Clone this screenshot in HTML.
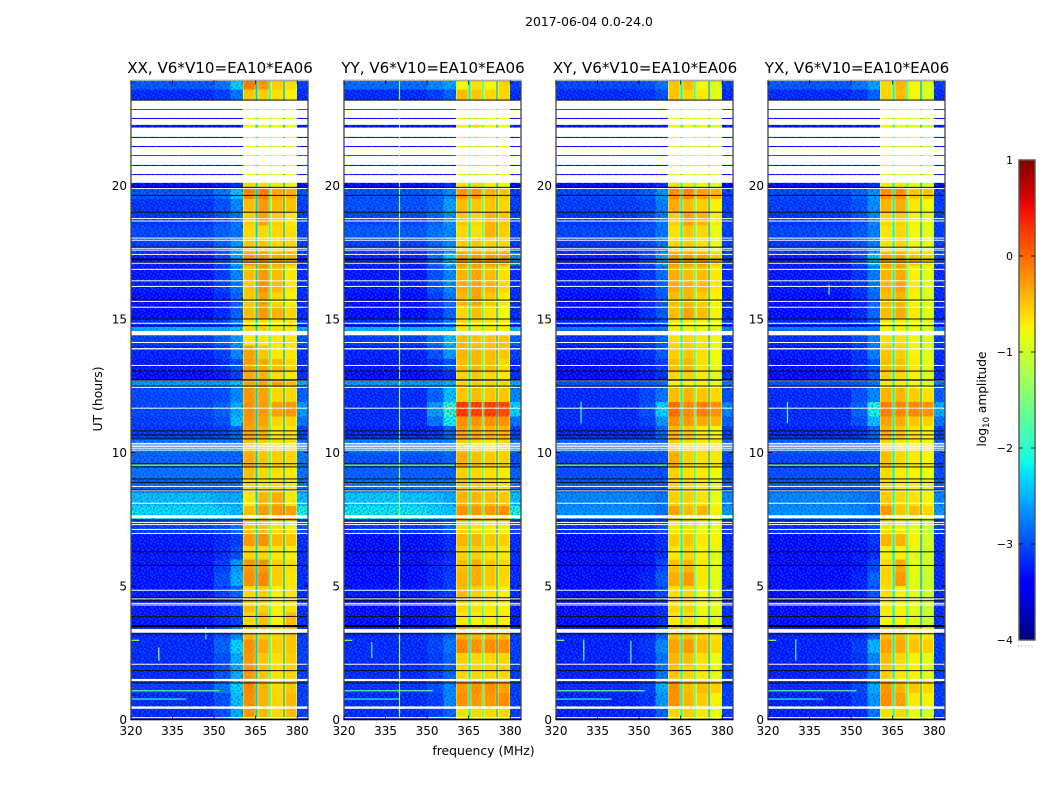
<!DOCTYPE html>
<html>
<head>
<meta charset="utf-8">
<title>Spectrogram 2017-06-04</title>
<style>
html,body{margin:0;padding:0;background:#fff;}
svg{display:block;}
text{font-family:"DejaVu Sans","Liberation Sans",sans-serif;fill:#000;}
</style>
</head>
<body>
<svg id="chart" xmlns="http://www.w3.org/2000/svg" width="1050" height="800" viewBox="0 0 1050 800">
<defs>
<linearGradient id="jetGradient" x1="0" y1="1" x2="0" y2="0"></linearGradient>
</defs>
<text x="589" y="26" font-size="12.4" text-anchor="middle">2017-06-04 0.0-24.0</text>
<text x="483.5" y="755" font-size="12.4" text-anchor="middle">frequency (MHz)</text>
<text x="0" y="0" font-size="12.4" text-anchor="middle" transform="translate(102,399) rotate(-90)">UT (hours)</text>
<text x="0" y="0" font-size="12.2" text-anchor="middle" transform="translate(986,399) rotate(-90)">log<tspan font-size="8.5" dy="3">10</tspan><tspan dy="-3"> amplitude</tspan></text>
</svg>
<script>
const panelTitles = ["XX, V6*V10=EA10*EA06", "YY, V6*V10=EA10*EA06", "XY, V6*V10=EA10*EA06", "YX, V6*V10=EA10*EA06"];
const freqTicks = [320, 335, 350, 365, 380];
const hourTicks = [0, 5, 10, 15, 20];
const colorTicks = [1, 0, -1, -2, -3, -4];
const timeEdges = [0,.5,1,1.5,2,2.5,3,3.5,4,4.5,5,5.5,6,6.5,7,7.5,8,8.5,9,9.5,10,10.5,11,11.35,11.9,12.45,12.65,13,13.5,14,14.5,14.7,15,15.5,16,16.5,17,17.5,18,18.5,19,19.5,19.9,20.1,23.2,23.6,23.95];
const offBandEdges = [320, 350, 356, 360.4];
const bandEdges = [[360.4,365],[365.6,369.9],[370.4,375],[375.5,380]];
const edgeBand = [380, 384];
const gapEdges = [[365,365.6],[369.9,370.4],[375,375.5]];
// log10 amplitude per time row: bg, 350-356, 356-360, band1..band4, 380-384
const amplitudeXX = [
[-3,-2.8,-2.3,-.35,-.55,-.7,-.55,-2.9],[-3,-2.8,-2.2,-.3,-.5,-.7,-.55,-2.9],[-2.9,-2.6,-2.1,-.25,-.5,-.7,-.6,-2.9],[-3,-2.8,-2.3,-.35,-.6,-.75,-.7,-2.9],[-3,-2.8,-2.3,-.35,-.6,-.75,-.65,-2.9],[-3,-2.7,-2.1,-.3,-.45,-.65,-.6,-2.9],[-3,-2.8,-2.5,-.5,-.6,-.7,-.6,-2.9],[-3.1,-3,-2.9,-.7,-.55,-.85,-.55,-3],[-3.1,-3,-2.9,-.55,-.65,-.85,-.75,-3],[-3.1,-2.9,-2.7,-.7,-.65,-.85,-.8,-3],[-3.1,-2.8,-2.3,-.3,-.25,-.65,-.8,-3],[-3.1,-2.9,-2.4,-.35,-.35,-.65,-.75,-3],[-3.1,-3,-2.8,-.7,-.7,-.8,-.85,-3],[-3.1,-3,-2.9,-.35,-.3,-.55,-.6,-3],[-2.9,-2.8,-2.6,-.6,-.6,-.75,-.85,-2.8],[-2.05,-2.1,-2.2,-.55,-.35,-.35,-.4,-1.9],[-2.2,-2.3,-2.3,-.8,-.5,-.45,-.8,-2.2],[-2.7,-2.7,-2.7,-.7,-.75,-.75,-.8,-2.6],[-2.6,-2.6,-2.6,-.55,-.7,-.75,-.8,-2.6],[-2.7,-2.7,-2.7,-.45,-.6,-.65,-.7,-2.6],[-2.6,-2.6,-2.6,-.55,-.65,-.7,-.75,-2.6],[-2.95,-2.9,-2.7,-.4,-.5,-.8,-.8,-2.9],[-2.9,-2.8,-2.2,-.35,-.4,-.7,-.7,-2.6],[-2.85,-2.7,-2.3,-.3,-.35,-.4,-.35,-2.4],[-2.85,-2.8,-2.5,-.35,-.4,-.7,-.7,-2.7],[-2.4,-2.4,-2.2,-.4,-.4,-.4,-.55,-2.3],[-3.2,-3.1,-2.9,-.45,-.5,-.75,-.8,-3],[-3.1,-3,-2.8,-.35,-.45,-.55,-.7,-3],[-3.05,-2.9,-2.5,-.4,-.6,-.8,-.8,-3],[-2.9,-2.7,-2.4,-.8,-.8,-.8,-.8,-2.8],[-2.3,-2.3,-2.2,-.7,-.7,-.75,-.8,-2.3],[-3,-2.9,-2.6,-.75,-.75,-.8,-.8,-2.9],[-3.15,-3,-2.7,-.55,-.35,-.5,-.7,-3],[-3.15,-3,-2.7,-.6,-.4,-.7,-.85,-3],[-3.1,-2.9,-2.6,-.6,-.3,-.55,-.8,-3],[-3.1,-2.9,-2.5,-.55,-.35,-.55,-.8,-3],[-3.05,-2.8,-2.3,-.35,-.35,-.45,-.5,-3],[-2.9,-2.7,-2.4,-.6,-.6,-.7,-.7,-2.9],[-2.85,-2.7,-2.6,-.7,-.7,-.7,-.75,-2.9],[-2.95,-2.8,-2.6,-.65,-.4,-.65,-.8,-2.9],[-2.95,-2.8,-2.5,-.55,-.35,-.55,-.6,-2.9],[-2.8,-2.6,-2.2,-.25,-.2,-.45,-.5,-2.8],[-3.2,-3.1,-3,-.7,-.75,-.8,-.85,-3.2],[-3.1,-3.1,-3.1,-.9,-.9,-.95,-.95,-3.1],[-3,-2.9,-2.6,-.6,-.65,-.75,-.85,-3],[-2.75,-2.6,-2.1,-.2,-.35,-.65,-.75,-2.9]
];
const amplitudeYY = [
[-3,-2.9,-2.7,-.75,-.7,-.7,-.7,-2.9],[-3,-2.9,-2.5,-.3,-.35,-.35,-.3,-2.9],[-2.95,-2.8,-2.5,-.35,-.3,-.3,-.4,-2.9],[-3,-2.9,-2.7,-.7,-.7,-.7,-.7,-2.9],[-3,-2.9,-2.7,-.65,-.7,-.7,-.7,-2.9],[-3,-2.85,-2.6,-.25,-.3,-.3,-.3,-2.9],[-3,-2.9,-2.7,-.45,-.5,-.5,-.55,-2.9],[-3.15,-3.1,-3,-.8,-.85,-.85,-.85,-3.1],[-3.15,-3.1,-3,-.7,-.75,-.8,-.85,-3.1],[-3.1,-3,-2.9,-.55,-.65,-.75,-.85,-3],[-3.15,-3.05,-2.9,-.5,-.45,-.6,-.7,-3],[-3.15,-3.05,-2.95,-.55,-.45,-.6,-.7,-3],[-3.15,-3.1,-3,-.65,-.65,-.75,-.8,-3],[-3.15,-3.1,-3,-.5,-.5,-.6,-.65,-3],[-2.95,-2.9,-2.7,-.7,-.75,-.8,-.85,-2.8],[-2,-2.1,-2.15,-.3,-.35,-.35,-.3,-1.9],[-2.15,-2.2,-2.3,-.5,-.5,-.55,-.6,-2.2],[-2.6,-2.6,-2.6,-.6,-.65,-.7,-.75,-2.6],[-2.7,-2.7,-2.7,-.65,-.7,-.75,-.8,-2.7],[-2.8,-2.8,-2.7,-.45,-.55,-.6,-.65,-2.8],[-2.55,-2.55,-2.5,-.6,-.7,-.75,-.7,-2.6],[-3.05,-3,-2.7,-.4,-.45,-.5,-.5,-2.9],[-3,-2.6,-1.95,-.3,-.3,-.3,-.3,-2.6],[-3,-2.4,-1.7,.2,.15,.15,.1,-2.1],[-3,-2.7,-2.2,-.6,-.55,-.6,-.6,-2.5],[-2.4,-2.4,-2.3,-.7,-.65,-.65,-.7,-2.3],[-3.2,-3.1,-3,-.7,-.6,-.7,-.8,-3],[-3.1,-3,-2.8,-.55,-.5,-.55,-.7,-3],[-3.05,-2.8,-2.4,-.5,-.5,-.55,-.6,-2.9],[-2.9,-2.6,-2.2,-.55,-.6,-.6,-.6,-2.7],[-2.25,-2.25,-2.2,-.8,-.8,-.8,-.85,-2.2],[-3,-2.9,-2.6,-.7,-.7,-.75,-.8,-2.9],[-3.15,-3,-2.7,-.7,-.55,-.75,-.9,-3],[-3.15,-2.9,-2.6,-.5,-.4,-.6,-.8,-3],[-3.1,-2.8,-2.5,-.45,-.4,-.5,-.7,-3],[-3.1,-2.8,-2.5,-.5,-.4,-.55,-.75,-3],[-3,-2.6,-2.1,-.35,-.35,-.35,-.4,-2.4],[-2.9,-2.7,-2.5,-.65,-.6,-.65,-.7,-2.9],[-2.75,-2.6,-2.5,-.7,-.75,-.5,-.65,-2.9],[-2.85,-2.7,-2.45,-.6,-.7,-.5,-.6,-2.9],[-2.8,-2.7,-2.35,-.55,-.6,-.6,-.7,-2.9],[-2.8,-2.7,-2.5,-.35,-.35,-.5,-.6,-2.9],[-3.2,-3.1,-3,-.75,-.7,-.85,-.95,-3.2],[-3.1,-3.1,-3.1,-.8,-.7,-.9,-.95,-3.1],[-3,-2.9,-2.7,-.55,-.6,-.7,-.7,-3],[-2.65,-2.5,-2.35,-.9,-.75,-.9,-.7,-2.9]
];
const amplitudeXY = [
[-3.05,-3,-2.7,-.7,-.65,-.8,-.95,-2.9],[-3.05,-2.95,-2.4,-.3,-.5,-.65,-.85,-2.9],[-3,-2.9,-2.3,-.3,-.55,-.55,-.65,-2.9],[-3.05,-3,-2.6,-.6,-.7,-.8,-.95,-2.9],[-3.05,-3,-2.6,-.5,-.55,-.75,-.95,-2.9],[-3.05,-2.95,-2.5,-.4,-.35,-.55,-.7,-2.9],[-3.05,-3,-2.7,-.55,-.55,-.65,-.75,-2.9],[-3.15,-3.1,-3,-.8,-.75,-.9,-1,-3],[-3.15,-3.1,-3,-.7,-.65,-.9,-1,-3],[-3.15,-3.05,-2.85,-.75,-.7,-.9,-1,-3],[-3.15,-3.05,-2.75,-.45,-.35,-.8,-1,-3],[-3.15,-3.1,-2.85,-.55,-.5,-.8,-1,-3],[-3.15,-3.1,-3,-.8,-.7,-.85,-1,-3],[-3.15,-3.1,-3,-.65,-.6,-.8,-.85,-3],[-3,-2.95,-2.8,-.8,-.75,-.9,-1,-2.9],[-2.45,-2.5,-2.6,-.4,-.55,-.5,-.85,-2.4],[-2.5,-2.55,-2.6,-.65,-.65,-.75,-.95,-2.5],[-2.75,-2.75,-2.75,-.7,-.75,-.8,-1,-2.75],[-2.8,-2.8,-2.8,-.65,-.75,-.8,-.9,-2.8],[-2.85,-2.85,-2.8,-.45,-.65,-.75,-.8,-2.85],[-2.7,-2.7,-2.7,-.6,-.7,-.75,-.75,-2.7],[-3.05,-3,-2.7,-.5,-.6,-.8,-.9,-2.9],[-3,-2.9,-2.4,-.3,-.35,-.45,-.5,-2.7],[-3,-2.8,-2.1,-.1,-.25,-.2,-.3,-2.5],[-3,-2.85,-2.6,-.55,-.5,-.6,-.7,-2.8],[-2.8,-2.75,-2.65,-.85,-.85,-.85,-.95,-2.6],[-3.2,-3.1,-3,-.7,-.65,-.8,-1,-3],[-3.15,-3.05,-2.9,-.55,-.5,-.75,-.95,-3],[-3.1,-3,-2.75,-.65,-.6,-.75,-.9,-3],[-3,-2.9,-2.7,-.75,-.7,-.8,-.9,-2.9],[-2.6,-2.6,-2.6,-.85,-.85,-.9,-1,-2.5],[-3.05,-3,-2.8,-.8,-.8,-.85,-.95,-2.9],[-3.15,-3,-2.75,-.55,-.4,-.55,-.85,-3],[-3.15,-3,-2.75,-.55,-.5,-.65,-.85,-3],[-3.1,-2.95,-2.7,-.45,-.5,-.55,-.8,-3],[-3.1,-2.95,-2.65,-.45,-.55,-.55,-.8,-3],[-3.05,-2.8,-2.35,-.35,-.35,-.4,-.6,-2.9],[-2.95,-2.85,-2.6,-.7,-.65,-.75,-.95,-2.9],[-2.85,-2.8,-2.6,-.75,-.6,-.7,-.95,-2.9],[-2.95,-2.85,-2.6,-.65,-.4,-.5,-.85,-2.9],[-2.9,-2.85,-2.55,-.45,-.55,-.65,-.85,-2.9],[-2.85,-2.75,-2.45,-.3,-.25,-.4,-.5,-2.9],[-3.2,-3.1,-3,-.75,-.8,-.9,-1.05,-3.2],[-3.1,-3.1,-3.1,-.85,-.9,-.95,-1.05,-3.1],[-3,-2.95,-2.8,-.6,-.7,-.8,-1,-3],[-2.85,-2.8,-2.6,-.6,-.55,-.9,-1,-2.9]
];
const amplitudeYX = [
[-3.05,-3,-2.6,-.75,-.7,-.95,-1.1,-2.9],[-3.05,-2.9,-2.4,-.3,-.4,-.8,-.85,-2.9],[-3,-2.85,-2.3,-.35,-.5,-.6,-.7,-2.9],[-3.05,-2.95,-2.6,-.65,-.8,-.85,-1,-2.9],[-3.05,-2.95,-2.5,-.55,-.7,-.85,-1,-2.9],[-3.05,-2.9,-2.25,-.4,-.45,-.6,-.65,-2.9],[-3.05,-3,-2.7,-.55,-.55,-.7,-.8,-2.9],[-3.15,-3.1,-2.95,-.85,-.85,-1,-1.15,-3],[-3.15,-3.1,-2.95,-.8,-.85,-1,-1.15,-3],[-3.15,-3.05,-2.8,-.75,-.85,-1,-1.15,-3],[-3.15,-3.05,-2.7,-.7,-.35,-1,-1.15,-3],[-3.15,-3.1,-2.85,-.7,-.45,-1,-1.1,-3],[-3.15,-3.1,-3,-.85,-.85,-1,-1.1,-3],[-3.15,-3.1,-2.95,-.5,-.5,-.85,-1.1,-3],[-3,-2.95,-2.8,-.75,-.8,-1,-1.15,-2.9],[-2.45,-2.5,-2.6,-.35,-.6,-.55,-.7,-2.4],[-2.5,-2.55,-2.6,-.6,-.7,-.75,-.85,-2.5],[-2.75,-2.75,-2.75,-.75,-.8,-.85,-1,-2.75],[-2.8,-2.8,-2.8,-.7,-.8,-.85,-.95,-2.8],[-2.85,-2.85,-2.8,-.55,-.7,-.8,-.85,-2.85],[-2.7,-2.7,-2.7,-.65,-.75,-.8,-.85,-2.7],[-3.05,-3,-2.7,-.5,-.6,-.75,-.85,-2.9],[-3,-2.8,-2.2,-.4,-.45,-.6,-.65,-2.6],[-3,-2.7,-1.9,-.2,-.25,-.25,-.3,-2.3],[-3,-2.8,-2.5,-.5,-.5,-.65,-.75,-2.7],[-2.8,-2.75,-2.6,-.8,-.8,-.9,-1,-2.6],[-3.2,-3.05,-2.8,-.65,-.7,-.85,-1.05,-3],[-3.15,-3,-2.8,-.55,-.55,-.8,-1,-3],[-3.1,-2.95,-2.55,-.6,-.65,-.85,-1,-3],[-3,-2.85,-2.5,-.75,-.75,-.9,-1,-2.9],[-2.6,-2.6,-2.6,-.85,-.85,-.95,-1.05,-2.5],[-3.05,-3,-2.75,-.8,-.8,-.9,-1.05,-2.9],[-3.15,-3,-2.65,-.55,-.45,-.8,-1,-3],[-3.15,-3,-2.65,-.55,-.5,-.85,-1.05,-3],[-3.1,-2.95,-2.6,-.5,-.4,-.8,-1,-3],[-3.1,-2.95,-2.55,-.5,-.45,-.85,-1,-3],[-3.05,-2.8,-2.15,-.4,-.4,-.55,-.7,-2.8],[-2.95,-2.8,-2.55,-.75,-.7,-.9,-1,-2.9],[-2.85,-2.75,-2.55,-.8,-.7,-.9,-1,-2.9],[-2.95,-2.8,-2.5,-.7,-.65,-.85,-1,-2.9],[-2.9,-2.8,-2.45,-.5,-.45,-.8,-.9,-2.9],[-2.85,-2.7,-2.45,-.3,-.3,-.6,-.6,-2.9],[-3.2,-3.1,-3,-.8,-.8,-1,-1.1,-3.2],[-3.1,-3.1,-3.1,-.85,-.9,-1,-1.15,-3.1],[-3,-2.95,-2.7,-.7,-.55,-.9,-1.05,-3],[-2.75,-2.6,-2.35,-.7,-.5,-.9,-1.05,-2.9]
];
const panelAmplitudes = [amplitudeXX, amplitudeYY, amplitudeXY, amplitudeYX];
const gapLevels = [[-2.4,-2.1,-2.8],[-2.2,-1.9,-2.7],[-2.2,-1.9,-2.7],[-2.2,-1.9,-2.7]];
// Flagged (no data) time ranges in hours
const whiteThinHours = [19.89,18.76,18.67,18.03,17.95,17.65,17.58,17.42,17.09,16.86,16.43,16.22,15.66,15.44,14.84,14.12,13.26,12.69,12.44,11.66,10.34,10.28,10.22,10.16,10.09,8.73,8.57,8.10,7.38,7.30,7.12,6.97,4.84,4.52,4.35,4.29,2.07,.07];
const whiteRanges = [[22.86,23.18],[22.53,22.83],[22.27,22.49],[21.82,22.17],[21.48,21.78],[21.14,21.44],[20.77,21.11],[20.43,20.73],[20.1,20.39],[14.39,14.55],[13.86,13.91],[7.54,7.65],[3.25,3.39],[1.44,1.52],[.40,.49]];
const blackThinHours = [23.2,19.93,19.63,19.0,17.69,17.13,15.71,15.0,14.75,13.05,12.49,10.81,10.66,10.51,9.58,9.46,9.01,8.88,8.6,7.48,6.28,5.77,4.56,4.45,3.86,3.21,1.83,1.37];
const blackRanges = [[17.2,17.26],[12.69,12.74],[3.46,3.54]];
// Narrow interference: [hour, freqStart, freqEnd, log10 amplitude]
const horizontalRfi = [[[1.08,320,352,-1.7],[.77,320,340,-1.9],[2.97,320,323,-1.2],[9.53,320,360,-1.5]],[[1.08,320,352,-1.8],[.77,320,340,-2],[2.97,320,323,-1.4],[9.53,320,360,-1.5]],[[1.08,320,352,-1.6],[.77,320,340,-1.9],[2.97,320,323,-1.2],[9.53,320,360,-1.5]],[[1.08,320,352,-1.8],[.77,320,340,-2],[2.97,320,323,-1.2],[9.53,320,360,-1.5]]];
// [freq, hourStart, hourEnd, log10 amplitude]
const verticalRfi = [[[330,2.2,2.7,-1.2],[347,3.0,3.5,-2]],[[340,0,23.95,-1.3],[330,2.3,2.9,-2]],[[330,2.2,3,-1.5],[347,2.1,2.95,-1.7],[329,11.1,11.9,-1.9]],[[330,2.2,3,-1.7],[327,11.1,11.9,-1.8],[342,15.9,16.3,-1.8]]];
// Repeating fine-grain channel speckle tile for the off-band background
const speckleTile = ["+.-..+.-.+..","..+-...+..-.",".-..+.-..+.+","+...-.+.-...","..-+..-...+-",".+...+..+-..","-..+.-.+...+","..+..-...-+.","+.-.+..+-...",".-...+-...+.","..+-....+.-+","-...+.+-..."];
// Global colour-level adjustments
const offBandLift = -0.2;
const bandLift = 0.12;
const bandMarginDrop = 0.3;

const svgNS = "http://www.w3.org/2000/svg";
const svg = document.getElementById("chart");
const panelLefts = [131, 344, 556, 768];
const plotTop = 80.5, plotBottom = 719.5, plotWidth = 177;
const pxPerMHz = 2.77, pxPerHour = 26.7;

function yOfHour(h){ return plotBottom - h * pxPerHour; }
function xOfFreq(left, f){ return Math.min(left + (f - 320) * pxPerMHz, left + plotWidth); }
function ramp(t, pts){
  for (let i = 1; i < pts.length; i++){
    if (t <= pts[i][0]){
      const a = pts[i-1], b = pts[i];
      return a[1] + (b[1]-a[1]) * (t-a[0]) / (b[0]-a[0]);
    }
  }
  return pts[pts.length-1][1];
}
function jet(t){
  t = Math.max(0, Math.min(1, t));
  const r = ramp(t, [[0,0],[.35,0],[.66,1],[.89,1],[1,.5]]);
  const g = ramp(t, [[0,0],[.125,0],[.375,1],[.64,1],[.91,0],[1,0]]);
  const b = ramp(t, [[0,.5],[.11,1],[.34,1],[.65,0],[1,0]]);
  return "rgb(" + Math.round(r*255) + "," + Math.round(g*255) + "," + Math.round(b*255) + ")";
}
function colorOf(v){ return jet((v + 4) / 5); }
function make(tag, attrs, parent){
  const el = document.createElementNS(svgNS, tag);
  for (const k in attrs) el.setAttribute(k, attrs[k]);
  parent.appendChild(el);
  return el;
}

// gradient for the colourbar
const grad = document.getElementById("jetGradient");
for (let i = 0; i <= 40; i++){
  make("stop", {offset: (i/40*100) + "%", "stop-color": jet(i/40)}, grad);
}

// speckle pattern
const defs = svg.querySelector("defs");
const speckle = make("pattern", {id:"speckle", width:18, height:18, patternUnits:"userSpaceOnUse"}, defs);
speckleTile.forEach(function(row, r){
  row.split("").forEach(function(ch, c){
    if (ch === ".") return;
    make("rect", {x:c*1.5, y:r*1.5, width:1.5, height:1.5, fill: ch === "+" ? "#0090ff" : "#0000b0", "fill-opacity": ch === "+" ? .5 : .4}, speckle);
  });
});
// diagonal hatch for the band ripple
const hatch = make("pattern", {id:"hatch", width:4, height:4, patternUnits:"userSpaceOnUse", patternTransform:"rotate(25)"}, defs);
make("rect", {x:0, y:0, width:1.4, height:4, fill:"#ffe000", "fill-opacity":.18}, hatch);

panelTitles.forEach(function(title, p){
  const left = panelLefts[p];
  const right = left + plotWidth;
  const rows = panelAmplitudes[p];
  const gaps = gapLevels[p];
  const g = document.createElementNS(svgNS, "g");
  
  
  svg.appendChild(g);

  function cell(f0, f1, h0, h1, v){
    const x0 = xOfFreq(left, f0), x1 = xOfFreq(left, f1);
    const y1 = yOfHour(h0), y0 = yOfHour(h1);
    const r = make("rect", {x:x0, y:y0, width:x1-x0, height:y1-y0, fill:colorOf(v), "shape-rendering":"crispEdges"}, g);
    
    
  }

  rows.forEach(function(row, i){
    const h0 = timeEdges[i], h1 = timeEdges[i+1];
    cell(offBandEdges[0], offBandEdges[1], h0, h1, row[0] + offBandLift);
    cell(offBandEdges[1], offBandEdges[2], h0, h1, row[1] + offBandLift);
    cell(offBandEdges[2], offBandEdges[3], h0, h1, row[2] + offBandLift);
    bandEdges.forEach(function(be, b){
      const v = row[3+b] + bandLift;
      cell(be[0], be[0]+.45, h0, h1, v - bandMarginDrop);
      cell(be[0]+.45, be[1]-.35, h0, h1, v);
      cell(be[1]-.35, be[1], h0, h1, v - bandMarginDrop);
    });
    gapEdges.forEach(function(ge, b){
      cell(ge[0], ge[1], h0, h1, gaps[b]);
    });
    cell(edgeBand[0], edgeBand[1], h0, h1, row[7] + offBandLift);
  });

  // texture overlays
  const tx0 = xOfFreq(left, 320), tx1 = xOfFreq(left, 360.4);
  const sp1 = make("rect", {x:tx0, y:plotTop, width:tx1-tx0, height:plotBottom-plotTop, fill:"url(#speckle)"}, g);
  
  
  const sx0 = xOfFreq(left, 380);
  const sp2 = make("rect", {x:sx0, y:plotTop, width:right-sx0, height:plotBottom-plotTop, fill:"url(#speckle)"}, g);
  
  
  bandEdges.forEach(function(be){
    const bx0 = xOfFreq(left, be[0]+.45), bx1 = xOfFreq(left, be[1]-.35);
    const ha = make("rect", {x:bx0, y:plotTop, width:bx1-bx0, height:plotBottom-plotTop, fill:"url(#hatch)"}, g);
    
    
  });

  // interference
  horizontalRfi[p].forEach(function(d){
    const x0 = xOfFreq(left, d[1]), x1 = xOfFreq(left, d[2]);
    const l = make("rect", {x:x0, y:yOfHour(d[0])-.5, width:x1-x0, height:1.2, fill:colorOf(d[3])}, g);
    
    
  });
  verticalRfi[p].forEach(function(d){
    const y0 = yOfHour(d[2]), y1 = yOfHour(d[1]);
    const l = make("rect", {x:xOfFreq(left, d[0])-.5, y:y0, width:1.2, height:y1-y0, fill:colorOf(d[3])}, g);
    
    
  });

  // flagged rows
  whiteRanges.forEach(function(d){
    const y0 = yOfHour(d[1]), y1 = yOfHour(d[0]);
    const l = make("rect", {x:left, y:y0, width:plotWidth, height:y1-y0, fill:"#fff"}, g);
    
    
  });
  whiteThinHours.forEach(function(h){
    const l = make("rect", {x:left, y:yOfHour(h)-.5, width:plotWidth, height:1, fill:"#fff"}, g);
    
    
  });
  blackThinHours.forEach(function(h){
    const l = make("rect", {x:left, y:yOfHour(h)-.5, width:plotWidth, height:1, fill:"#111"}, g);
    
    
  });
  blackRanges.forEach(function(d){
    const y0 = yOfHour(d[1]), y1 = yOfHour(d[0]);
    const l = make("rect", {x:left, y:y0, width:plotWidth, height:y1-y0, fill:"#000"}, g);
    
    
  });

  // frame
  const frame = make("rect", {x:left, y:plotTop, width:plotWidth, height:plotBottom-plotTop, fill:"none", stroke:"#444", "stroke-width":1.3}, g);
  
  
  const topEdge = make("line", {x1:left-.5, x2:right+.5, y1:plotTop, y2:plotTop, stroke:"#aaa", "stroke-width":1.3}, g);
  
  
  const bottomEdge = make("line", {x1:left-.5, x2:right+.5, y1:plotBottom, y2:plotBottom, stroke:"#000", "stroke-width":1.5}, g);
  
  

  // x ticks and labels
  freqTicks.forEach(function(f){
    const x = xOfFreq(left, f);
    const t1 = make("line", {x1:x, x2:x, y1:plotBottom, y2:plotBottom-4, stroke:"#000", "stroke-width":.8}, g);
    
    
    const t2 = make("line", {x1:x, x2:x, y1:plotTop, y2:plotTop+4, stroke:"#000", "stroke-width":.8}, g);
    
    
    const lb = make("text", {x:x, y:735, "font-size":12, "text-anchor":"middle"}, g);
    lb.textContent = String(f);
    
    
  });
  // y ticks and labels
  hourTicks.forEach(function(h){
    const y = yOfHour(h);
    const t1 = make("line", {x1:left, x2:left+4, y1:y, y2:y, stroke:"#000", "stroke-width":.8}, g);
    
    
    const t2 = make("line", {x1:right, x2:right-4, y1:y, y2:y, stroke:"#000", "stroke-width":.8}, g);
    
    
    const lb = make("text", {x:left-4, y:y+4.5, "font-size":12, "text-anchor":"end"}, g);
    lb.textContent = String(h);
    
    
  });
  const tt = make("text", {x:left+plotWidth/2+.5, y:73, "font-size":15.1, "text-anchor":"middle"}, g);
  tt.textContent = title;
  
  
});

// colourbar
const cb = document.createElementNS(svgNS, "g");


svg.appendChild(cb);
const cbLeft = 1019, cbWidth = 16, cbTop = 160, cbBottom = 640;
function yOfLevel(v){ return cbBottom - (v + 4) / 5 * (cbBottom - cbTop); }
const bar = make("rect", {x:cbLeft, y:cbTop, width:cbWidth, height:cbBottom-cbTop, fill:"url(#jetGradient)", stroke:"#555", "stroke-width":1.4}, cb);


colorTicks.forEach(function(v){
  const y = yOfLevel(v);
  const lb = make("text", {x:1013, y:y+4, "font-size":11, "text-anchor":"end"}, cb);
  lb.textContent = (v < 0 ? "\u2212" : "") + Math.abs(v);
  
  
  if (v === 1 || v === -4) return;
  const t1 = make("line", {x1:cbLeft, x2:cbLeft+4, y1:y, y2:y, stroke:"#000", "stroke-width":.8}, cb);
  
  
  const t2 = make("line", {x1:cbLeft+cbWidth-4, x2:cbLeft+cbWidth, y1:y, y2:y, stroke:"#000", "stroke-width":.8}, cb);
  
  
});
const dots = make("line", {x1:1018, x2:1035, y1:646, y2:646, stroke:"#999", "stroke-width":1, "stroke-dasharray":"1 2.4"}, cb);


</script>
</body>
</html>
